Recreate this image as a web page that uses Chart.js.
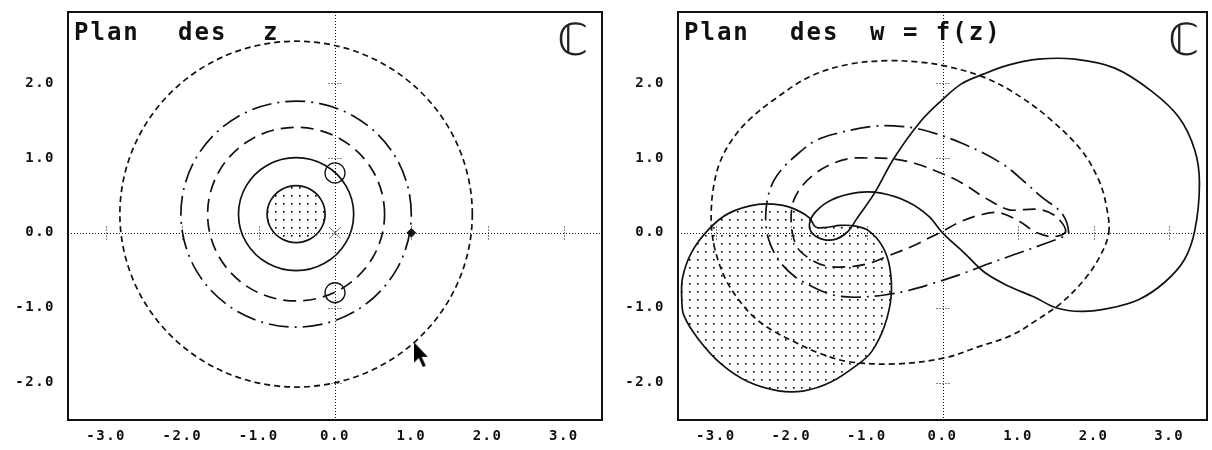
<!DOCTYPE html>
<html>
<head>
<meta charset="utf-8">
<script src="https://cdn.jsdelivr.net/npm/chart.js"></script>
<style>
  html, body { margin: 0; padding: 0; background: #fff; }
  #wrap { position: relative; width: 1212px; height: 450px; }
  canvas { position: absolute; top: 0; }
  #left { left: 0; }
  #right { left: 606px; }
</style>
</head>
<body>
<div id="wrap">
  <canvas id="left" width="606" height="450"></canvas>
  <canvas id="right" width="606" height="450"></canvas>
</div>
<script>
const xTicks = [-3, -2, -1, 0, 1, 2, 3];
const yTicks = [-2, -1, 0, 1, 2];

// plan des z : circles round -0.51 + 0.25i
const zShaded = [[-0.13,0.25],[-0.181,0.44],[-0.32,0.579],[-0.51,0.63],[-0.70,0.579],[-0.839,0.44],[-0.89,0.25],[-0.839,0.06],[-0.70,-0.079],[-0.51,-0.13],[-0.32,-0.079],[-0.181,0.06]];
const zSolid = [[0.245,0.25],[0.144,0.628],[-0.132,0.904],[-0.51,1.005],[-0.888,0.904],[-1.164,0.628],[-1.265,0.25],[-1.164,-0.128],[-0.888,-0.404],[-0.51,-0.505],[-0.132,-0.404],[0.144,-0.128]];
const zDashed = [[0.65,0.25],[0.495,0.83],[0.07,1.255],[-0.51,1.41],[-1.09,1.255],[-1.515,0.83],[-1.67,0.25],[-1.515,-0.33],[-1.09,-0.755],[-0.51,-0.91],[0.07,-0.755],[0.495,-0.33]];
const zDashDot = [[1.0,0.25],[0.798,1.005],[0.245,1.558],[-0.51,1.76],[-1.265,1.558],[-1.818,1.005],[-2.02,0.25],[-1.818,-0.505],[-1.265,-1.058],[-0.51,-1.26],[0.245,-1.058],[0.798,-0.505]];
const zOuter = [[1.8,0.25],[1.49,1.405],[0.645,2.25],[-0.51,2.56],[-1.665,2.25],[-2.51,1.405],[-2.82,0.25],[-2.51,-0.905],[-1.665,-1.75],[-0.51,-2.06],[0.645,-1.75],[1.49,-0.905]];
const zPoles = [[0, 0.8], [0, -0.8]];
const zZero = [[0, 0]];
const zPoint = [[1, 0]];
const cursorAt = [[1.13, -1.63]];

// plan des w = f(z) : images of the same circles
const wShaded = [[-0.68,-0.85],[-0.7,-0.45],[-0.8,-0.17],[-0.98,0.03],[-1.15,0.09],[-1.35,0.1],[-1.56,0.07],[-1.68,0.08],[-1.76,0.2],[-1.92,0.3],[-2.13,0.37],[-2.44,0.38],[-2.83,0.26],[-3.1,0.04],[-3.32,-0.26],[-3.44,-0.6],[-3.45,-0.9],[-3.42,-1.11],[-3.23,-1.42],[-2.93,-1.75],[-2.57,-1.99],[-2.17,-2.11],[-1.83,-2.11],[-1.47,-1.99],[-1.11,-1.75],[-0.94,-1.59],[-0.77,-1.25]];
const wSolid = [[0.0,1.78],[0.25,1.99],[0.54,2.12],[0.87,2.24],[1.27,2.32],[1.75,2.32],[2.28,2.2],[2.77,1.89],[3.13,1.54],[3.34,1.1],[3.4,0.66],[3.34,0.04],[3.2,-0.36],[2.94,-0.66],[2.6,-0.89],[2.2,-1.01],[1.84,-1.05],[1.5,-1.0],[1.22,-0.86],[0.87,-0.71],[0.56,-0.53],[0.29,-0.27],[0.0,0.0],[-0.18,0.22],[-0.45,0.41],[-0.81,0.53],[-1.11,0.54],[-1.47,0.44],[-1.68,0.28],[-1.76,0.12],[-1.72,-0.01],[-1.57,-0.09],[-1.4,-0.08],[-1.25,0.02],[-1.14,0.18],[-0.9,0.53],[-0.64,1.0],[-0.28,1.5]];
const wDashed = [[1.63,0.02],[1.5,0.22],[1.3,0.31],[1.05,0.31],[0.87,0.31],[0.56,0.47],[0.25,0.67],[0.0,0.79],[-0.37,0.93],[-0.68,0.99],[-1.0,1.0],[-1.25,0.99],[-1.51,0.9],[-1.7,0.78],[-1.87,0.61],[-1.98,0.4],[-2.0,0.1],[-1.93,-0.18],[-1.78,-0.33],[-1.55,-0.44],[-1.2,-0.45],[-0.95,-0.4],[-0.7,-0.3],[-0.4,-0.18],[-0.18,-0.07],[0.0,0.02],[0.22,0.14],[0.5,0.24],[0.75,0.27],[1.02,0.15],[1.25,0.0],[1.48,-0.05]];
const wDashDot = [[1.67,0.0],[1.58,0.26],[1.31,0.48],[1.11,0.66],[0.78,0.93],[0.25,1.2],[-0.28,1.38],[-0.64,1.43],[-0.94,1.42],[-1.43,1.32],[-1.7,1.22],[-1.92,1.05],[-2.1,0.88],[-2.23,0.7],[-2.31,0.48],[-2.34,0.2],[-2.3,-0.09],[-2.17,-0.36],[-1.96,-0.58],[-1.7,-0.73],[-1.45,-0.83],[-1.17,-0.86],[-0.77,-0.83],[-0.45,-0.77],[-0.08,-0.66],[0.25,-0.55],[0.62,-0.41],[0.95,-0.29],[1.34,-0.15],[1.6,-0.05]];
const wOuter = [[2.2,0.0],[2.17,0.35],[2.07,0.7],[1.84,1.1],[1.4,1.54],[0.95,1.87],[0.52,2.09],[0.03,2.23],[-0.3,2.28],[-0.72,2.3],[-1.25,2.25],[-1.75,2.09],[-2.2,1.8],[-2.57,1.5],[-2.8,1.22],[-2.95,0.93],[-3.03,0.61],[-3.06,0.3],[-3.05,0.0],[-2.99,-0.3],[-2.87,-0.62],[-2.7,-0.89],[-2.49,-1.13],[-2.24,-1.31],[-1.93,-1.47],[-1.65,-1.6],[-1.25,-1.72],[-0.6,-1.75],[0.03,-1.67],[0.48,-1.52],[0.91,-1.37],[1.27,-1.15],[1.58,-0.93],[1.88,-0.62],[2.08,-0.32]];

const ink = '#111';
const labelFont = { family: 'DejaVu Sans Mono', weight: 'bold', size: 14 };

// dotted fill for the shaded disc
const dotTile = document.createElement('canvas');
dotTile.width = 8; dotTile.height = 8;
const dt = dotTile.getContext('2d');
dt.fillStyle = '#000';
dt.fillRect(3, 3, 1.6, 1.6);
const stipple = document.getElementById('left').getContext('2d').createPattern(dotTile, 'repeat');

// mouse pointer left on the screen
const arrow = document.createElement('canvas');
arrow.width = 15; arrow.height = 26;
const ag = arrow.getContext('2d');
ag.fillStyle = '#000';
ag.beginPath();
[[0,0],[0,21],[5,16],[9,25],[12,24],[8,15],[14,15]].forEach(([x, y], i) => i ? ag.lineTo(x, y) : ag.moveTo(x, y));
ag.closePath();
ag.fill();

const toPts = pts => pts.map(([x, y]) => ({ x, y }));

// closed curve: wrap the ends so the spline is smooth all round,
// the two wrap segments are hidden
function curve(pts, dash, extra) {
  const p = toPts(pts);
  const data = [p[p.length - 1], ...p, p[0], p[1]];
  const last = data.length - 1;
  return Object.assign({
    data,
    showLine: true,
    pointRadius: 0,
    borderColor: ink,
    borderWidth: 1.7,
    borderDash: dash,
    tension: 0.35,
    fill: false,
    segment: {
      borderColor: c => (c.p0DataIndex === 0 || c.p1DataIndex === last) ? 'rgba(0,0,0,0)' : undefined
    }
  }, extra);
}

function marks(pts, style, r, extra) {
  return Object.assign({
    data: toPts(pts),
    showLine: false,
    pointStyle: style,
    pointRadius: r,
    pointHoverRadius: r,
    borderColor: ink,
    backgroundColor: 'rgba(0,0,0,0)',
    borderWidth: 1.3
  }, extra);
}

const decor = {
  id: 'decor',
  beforeDraw(chart) {
    chart.ctx.letterSpacing = '1.5px';
  },
  beforeDatasetsDraw(chart) {
    const { ctx, chartArea: a, scales: { x, y } } = chart;
    const x0 = Math.round(x.getPixelForValue(0)) + 0.5;
    const y0 = Math.round(y.getPixelForValue(0)) + 0.5;
    ctx.save();
    ctx.strokeStyle = ink;
    ctx.lineWidth = 1;
    ctx.setLineDash([1, 2]);
    ctx.beginPath();
    ctx.moveTo(a.left, y0); ctx.lineTo(a.right, y0);
    ctx.moveTo(x0, a.top); ctx.lineTo(x0, a.bottom);
    xTicks.filter(v => v !== 0).forEach(v => {
      const px = Math.round(x.getPixelForValue(v)) + 0.5;
      ctx.moveTo(px, y0 - 7); ctx.lineTo(px, y0 + 7);
    });
    yTicks.filter(v => v !== 0).forEach(v => {
      const py = Math.round(y.getPixelForValue(v)) + 0.5;
      ctx.moveTo(x0 - 7, py); ctx.lineTo(x0 + 7, py);
    });
    ctx.stroke();
    ctx.restore();
  },
  afterDraw(chart, args, opts) {
    const { ctx, chartArea: a } = chart;
    ctx.save();
    ctx.setLineDash([]);
    ctx.strokeStyle = ink;
    ctx.lineWidth = 2;
    ctx.strokeRect(a.left, a.top, a.right - a.left, a.bottom - a.top);
    ctx.fillStyle = ink;
    ctx.letterSpacing = '2px';
    ctx.font = 'bold 24px "DejaVu Sans Mono"';
    ctx.textBaseline = 'alphabetic';
    ctx.textAlign = 'left';
    opts.words.forEach(([t, dx]) => ctx.fillText(t, a.left + dx, a.top + 28));
    ctx.letterSpacing = '0px';
    ctx.font = '44px "DejaVu Sans"';
    ctx.textAlign = 'right';
    ctx.fillStyle = '#222';
    ctx.fillText('\u2102', a.right - opts.cRight, a.top + 43);
    ctx.restore();
  }
};

function options(yWidth, padRight, words, cRight) {
  return {
    responsive: false,
    animation: false,
    events: [],
    layout: { autoPadding: false, padding: { top: 12, right: padRight, left: 0, bottom: 0 } },
    plugins: {
      legend: { display: false },
      tooltip: { enabled: false },
      decor: { words, cRight }
    },
    scales: {
      x: {
        type: 'linear', min: -3.5, max: 3.5,
        grid: { display: false, drawTicks: false },
        border: { display: false },
        afterBuildTicks: s => { s.ticks = xTicks.map(value => ({ value })); },
        afterFit: s => { s.height = 30; s.paddingLeft = 0; s.paddingRight = 0; },
        ticks: { padding: 8, color: ink, font: labelFont, maxRotation: 0, autoSkip: false, callback: v => v.toFixed(1) }
      },
      y: {
        type: 'linear', min: -2.5, max: 2.95,
        grid: { display: false, drawTicks: false },
        border: { display: false },
        afterBuildTicks: s => { s.ticks = yTicks.map(value => ({ value })); },
        afterFit: s => { s.width = yWidth; s.paddingTop = 0; s.paddingBottom = 0; },
        ticks: { padding: 13, color: ink, font: labelFont, autoSkip: false, callback: v => v.toFixed(1) }
      }
    }
  };
}

new Chart(document.getElementById('left'), {
  type: 'scatter',
  data: {
    datasets: [
      curve(zShaded, [], { fill: 'shape', backgroundColor: stipple, order: 5 }),
      curve(zSolid, []),
      curve(zDashed, [13, 7]),
      curve(zDashDot, [20, 6, 2, 6]),
      curve(zOuter, [6, 4]),
      marks(zPoles, 'circle', 10),
      marks(zZero, 'crossRot', 8, { borderColor: '#666', borderWidth: 1 }),
      marks(zPoint, 'rectRot', 4, { backgroundColor: ink }),
      marks(cursorAt, arrow, 10)
    ]
  },
  options: options(68, 4, [['Plan', 6], ['des', 110], ['z', 195]], 14),
  plugins: [decor]
});

new Chart(document.getElementById('right'), {
  type: 'scatter',
  data: {
    datasets: [
      curve(wShaded, [], { fill: 'shape', backgroundColor: stipple, order: 5 }),
      curve(wSolid, []),
      curve(wDashed, [13, 7]),
      curve(wDashDot, [20, 6, 2, 6]),
      curve(wOuter, [6, 4])
    ]
  },
  options: options(72, 5, [['Plan', 6], ['des', 112], ['w = f(z)', 192]], 8),
  plugins: [decor]
});
</script>
</body>
</html>
